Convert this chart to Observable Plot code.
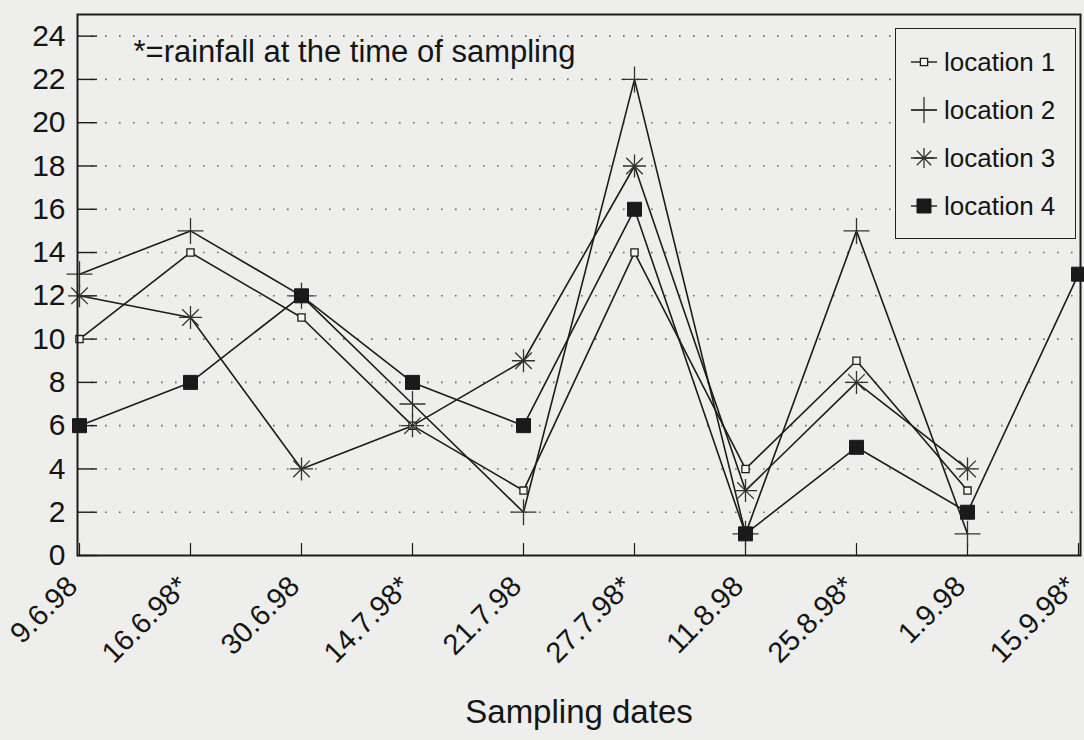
<!DOCTYPE html>
<html><head><meta charset="utf-8">
<script src="https://cdn.jsdelivr.net/npm/d3@7"></script>
<script src="https://cdn.jsdelivr.net/npm/@observablehq/plot@0.6"></script>
<style>
body{margin:0;background:#eeeeec;font-family:"Liberation Sans",Arial,sans-serif;}
#wrap{position:relative;width:1084px;height:740px;overflow:hidden;}
#legend{position:absolute;left:895px;top:28px;width:181px;height:211px;border:1.6px solid #222;background:#eeeeec;box-sizing:border-box;}
.item{position:absolute;left:14px;height:30px;display:flex;align-items:center;font-size:26px;color:#151515;white-space:nowrap;}
.item svg{margin-right:6px;}
</style></head><body><div id="wrap"></div>
<script>
const dates = ["9.6.98","16.6.98*","30.6.98","14.7.98*","21.7.98","27.7.98*","11.8.98","25.8.98*","1.9.98","15.9.98*"];
const location1 = [10,14,11,6,3,14,4,9,3,null];
const location2 = [13,15,12,7,2,22,1,15,1,null];
const location3 = [12,11,4,6,9,18,3,8,4,null];
const location4 = [6,8,12,8,6,16,1,5,2,13];
const seriesNames = ["location 1","location 2","location 3","location 4"];
const yTicks = [0,2,4,6,8,10,12,14,16,18,20,22,24];
const gridTicks = [2,4,6,8,10,12,14,16,18,20,22,24];
const note = "*=rainfall at the time of sampling";
const xTitle = "Sampling dates";

const allSeries = [location1, location2, location3, location4];
const table = dates.flatMap((d, i) => seriesNames.map((s, j) => ({date: d, location: s, value: allSeries[j][i]})))
  .filter(d => d.value != null);

const ink = "#1c1c1c";
const rad = size => Math.sqrt(size / Math.PI);
const squareSym = {draw(c, size){ const r = rad(size); c.moveTo(-r,-r); c.lineTo(r,-r); c.lineTo(r,r); c.lineTo(-r,r); c.closePath(); }};
const plusSym = {draw(c, size){ const r = rad(size); c.moveTo(-r,0); c.lineTo(r,0); c.moveTo(0,-r); c.lineTo(0,r); }};
const starSym = {draw(c, size){ const r = rad(size), d = r*0.72; c.moveTo(-r,0); c.lineTo(r,0); c.moveTo(0,-r); c.lineTo(0,r); c.moveTo(-d,-d); c.lineTo(d,d); c.moveTo(-d,d); c.lineTo(d,-d); }};

const symStyle = {
  "location 1": {symbol: squareSym, r: 3.6, fill: "#f4f4f2", stroke: ink, strokeWidth: 1.3},
  "location 2": {symbol: plusSym, r: 13, fill: "none", stroke: "#333", strokeWidth: 1.3},
  "location 3": {symbol: starSym, r: 11.5, fill: "none", stroke: "#333", strokeWidth: 1.3},
  "location 4": {symbol: squareSym, r: 7, fill: "#1a1a1a", stroke: "#1a1a1a", strokeWidth: 1}
};

const chart = Plot.plot({
  width: 1084, height: 740,
  marginLeft: 77, marginRight: 4, marginTop: 14, marginBottom: 185,
  style: {background: "#eeeeec", fontFamily: "'Liberation Sans', Arial, sans-serif", color: "#151515", overflow: "visible"},
  x: {type: "point", domain: dates, padding: 0, axis: null},
  y: {domain: [0, 25], axis: null, label: null},
  marks: [
    Plot.gridY(gridTicks, {stroke: "#6a6a6a", strokeOpacity: 1, strokeWidth: 1.6, strokeDasharray: "1.6,12.4"}),
    Plot.axisY(yTicks, {tickSize: -20, tickFormat: () => "", stroke: ink, strokeWidth: 1.4}),
    Plot.axisY(yTicks, {tickSize: 0, tickPadding: 12, fontSize: 30, label: null}),
    Plot.axisX({tickSize: -12, tickFormat: () => "", stroke: ink, strokeWidth: 1.2, label: null}),
    Plot.axisX({tickSize: 0, tickRotate: -45, tickPadding: 26, dx: -7, fontSize: 29, label: null}),
    Plot.line(table, {x: "date", y: "value", z: "location", stroke: ink, strokeWidth: 1.6}),
    ...seriesNames.map(s => Plot.dot(table.filter(d => d.location === s), {x: "date", y: "value", ...symStyle[s]})),
    Plot.frame({stroke: ink, strokeWidth: 2}),
    Plot.text([note], {text: d => d, frameAnchor: "top-left", dx: 56, dy: 38, textAnchor: "start", lineAnchor: "middle", fontSize: 31}),
    Plot.text([xTitle], {text: d => d, frameAnchor: "bottom", dy: 157, lineAnchor: "middle", fontSize: 33})
  ]
});

const wrap = document.getElementById("wrap");
wrap.appendChild(chart);

// legend
const legend = document.createElement("div");
legend.id = "legend";
seriesNames.forEach((s, i) => {
  const item = document.createElement("div");
  item.className = "item";
  item.style.top = (18 + i * 48) + "px";
  const st = symStyle[s];
  const svg = d3.create("svg").attr("width", 28).attr("height", 30);
  svg.append("line").attr("x1", 1).attr("x2", 27).attr("y1", 15).attr("y2", 15).attr("stroke", ink).attr("stroke-width", 1.4);
  const r = st.symbol === plusSym ? 13 : st.symbol === starSym ? 10 : st.r;
  svg.append("path").attr("transform", "translate(14,15)")
    .attr("d", d3.symbol(st.symbol, r * r * Math.PI)())
    .attr("fill", st.fill).attr("stroke", st.stroke).attr("stroke-width", st.strokeWidth);
  item.appendChild(svg.node());
  const t = document.createElement("span");
  t.textContent = s;
  item.appendChild(t);
  legend.appendChild(item);
});
wrap.appendChild(legend);
</script>
</body></html>
